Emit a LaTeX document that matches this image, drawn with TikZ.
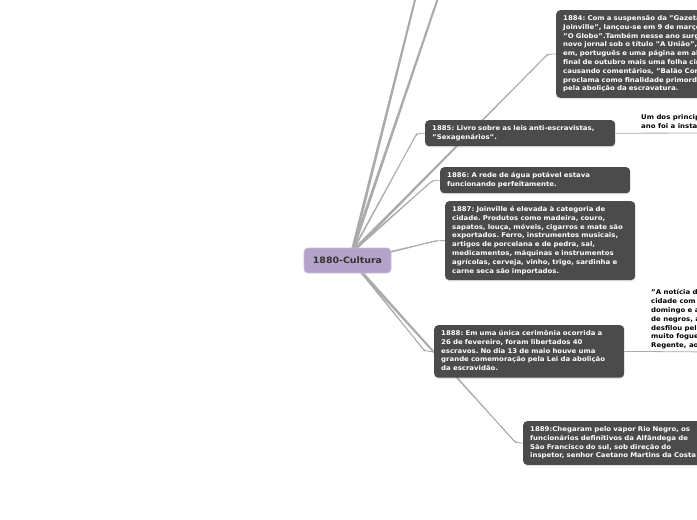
\documentclass[tikz,border=0pt]{standalone}
\usepackage{fontspec}
\setmainfont[FakeStretch=1.07]{DejaVu Sans}
\usetikzlibrary{calc,shadows}
\pgfdeclarelayer{bg}
\pgfsetlayers{bg,main}
\definecolor{boxgray}{HTML}{4B4B4B}
\definecolor{linegray}{HTML}{ABABAB}
\definecolor{purp}{HTML}{B4A2CA}
\definecolor{purpedge}{HTML}{CBBDDC}
\definecolor{ctext}{HTML}{333333}
\newcommand\mmbranch[4]{%
  \fill[linegray] ($(#1)!#3!90:(#2)$) -- ($(#2)!#4!-90:(#1)$) -- ($(#2)!#4!90:(#1)$) -- ($(#1)!#3!-90:(#2)$) -- cycle;}
\tikzset{
  topic/.style={fill=boxgray, rounded corners=4pt, text=white,
    font=\fontsize{6.5}{8.8}\selectfont\bfseries\frenchspacing, text width=176pt, align=left,
    inner xsep=7pt, inner ysep=4.2pt, anchor=north west,
    drop shadow={shadow xshift=0pt, shadow yshift=-1.2pt, opacity=0.22}},
  central/.style={fill=purp, draw=purpedge, line width=0.8pt, rounded corners=4pt,
    minimum width=87pt, minimum height=25pt, inner sep=0pt, text=ctext,
    font=\fontsize{8.8}{10}\selectfont\bfseries},
  childtext/.style={text=black, font=\fontsize{6.5}{8.8}\selectfont\bfseries\frenchspacing,
    align=left, inner xsep=0pt, inner ysep=1.5pt, anchor=south west},
  tail/.style={linegray, line width=0.8pt, rounded corners=4pt},
  uline/.style={linegray, line width=0.8pt}
}
\begin{document}
\begin{tikzpicture}[x=1pt,y=-1pt]
\useasboundingbox (0,0) rectangle (697,520);

\node[central] (c) at (347.5,260.5) {1880-Cultura};

\node[topic, text width=240pt] (n1884) at (556,10) {\begin{tabular}{@{}l@{}}
1884: Com a suspensão da "Gazeta de\\
Joinville", lançou-se em 9 de março\\
"O Globo".Também nesse ano surgiu\\
novo jornal sob o título "A União",\\
em, português e uma página em alemão\\
final de outubro mais uma folha circulou\\
causando comentários, "Balão Correio"\\
proclama como finalidade primordial\\
pela abolição da escravatura.
\end{tabular}};

\node[topic] (n1885) at (425,120) {\begin{tabular}{@{}l@{}}
1885: Livro sobre as leis anti-escravistas,\\
"Sexagenários".
\end{tabular}};

\node[topic] (n1886) at (440,167) {\begin{tabular}{@{}l@{}}
1886: A rede de água potável estava\\
funcionando perfeitamente.
\end{tabular}};

\node[topic] (n1887) at (445,201) {\begin{tabular}{@{}l@{}}
1887: Joinville é elevada à categoria de\\
cidade. Produtos como madeira, couro,\\
sapatos, louça, móveis, cigarros e mate são\\
exportados. Ferro, instrumentos musicais,\\
artigos de porcelana e de pedra, sal,\\
medicamentos, máquinas e instrumentos\\
agrícolas, cerveja, vinho, trigo, sardinha e\\
carne seca são importados.
\end{tabular}};

\node[topic] (n1888) at (434,325) {\begin{tabular}{@{}l@{}}
1888: Em uma única cerimônia ocorrida a\\
26 de fevereiro, foram libertados 40\\
escravos. No dia 13 de maio houve uma\\
grande comemoração pela Lei da  abolição\\
da escravidão.
\end{tabular}};

\node[topic, text width=200pt] (n1889) at (523,421) {\begin{tabular}{@{}l@{}}
1889:Chegaram pelo vapor Rio Negro, os\\
funcionários definitivos da Alfândega de\\
São Francisco do sul, sob direção do\\
inspetor, senhor Caetano Martins da Costa
\end{tabular}};

\node[childtext] (ch1885) at (641,133) {\begin{tabular}{@{}l@{}}
Um dos principais\\
ano foi a instalação
\end{tabular}};

\node[childtext] (ch1888) at (651,352) {\begin{tabular}{@{}l@{}}
"A notícia da\\
cidade com a\\
domingo e a\\
de negros, a\\
desfilou pela\\
muito foguetório\\
Regente, ao
\end{tabular}};

\begin{pgfonlayer}{bg}
  \clip (0,0) rectangle (697,520);
  \fill[white] (0,0) rectangle (697,520);
  \coordinate (hubT) at (352,252);
  \coordinate (hubR) at (386,253);
  \coordinate (hubB) at (356,266);
  \coordinate (topA) at (417,-8);
  \coordinate (topB) at (440,-8);
  \coordinate (e1884) at ($(n1884.west)+(-8,0)$);
  \coordinate (e1885) at ($(n1885.west)+(-8,0)$);
  \coordinate (e1886) at ($(n1886.west)+(-7,0)$);
  \coordinate (e1887) at ($(n1887.west)+(-8,0)$);
  \coordinate (e1888) at ($(n1888.west)+(-9,0)$);
  \coordinate (e1889) at ($(n1889.west)+(-7,0)$);

  \mmbranch{hubT}{topA}{1.5pt}{1.0pt}
  \mmbranch{hubT}{topB}{1.5pt}{1.0pt}
  \mmbranch{hubT}{e1884}{1.5pt}{0.4pt}
  \mmbranch{hubT}{e1885}{0.9pt}{0.4pt}
  \mmbranch{hubT}{e1886}{1.1pt}{0.4pt}
  \mmbranch{hubR}{e1887}{0.9pt}{0.45pt}
  \mmbranch{hubB}{e1888}{0.9pt}{0.4pt}
  \mmbranch{hubB}{e1889}{1.5pt}{0.4pt}

  \draw[tail] ($(hubT)!0.9!(e1884)$) -- (e1884) -- (n1884.west);
  \draw[tail] ($(hubT)!0.85!(e1885)$) -- (e1885) -- (n1885.west);
  \draw[tail] ($(hubT)!0.85!(e1886)$) -- (e1886) -- (n1886.west);
  \draw[tail] ($(hubR)!0.75!(e1887)$) -- (e1887) -- (n1887.west);
  \draw[tail] ($(hubB)!0.85!(e1888)$) -- (e1888) -- (n1888.west);
  \draw[tail] ($(hubB)!0.9!(e1889)$) -- (e1889) -- (n1889.west);

  \draw[uline] (n1885.east) -- (ch1885.south east);
  \draw[uline] (n1888.east) -- (ch1888.south east);
\end{pgfonlayer}
\end{tikzpicture}
\end{document}
